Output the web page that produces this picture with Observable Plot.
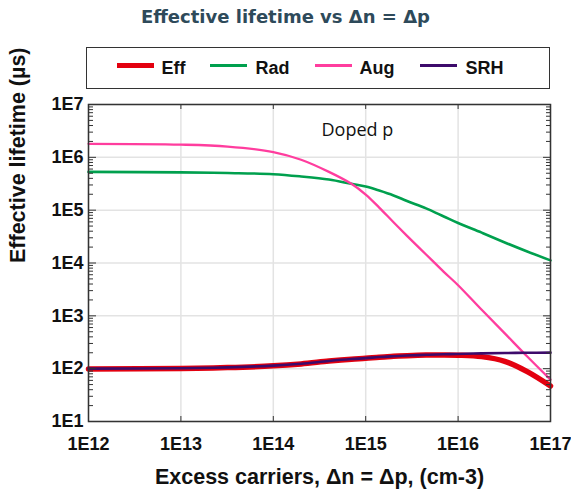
<!DOCTYPE html>
<html>
<head>
<meta charset="utf-8">
<script src="https://cdn.jsdelivr.net/npm/d3@7"></script>
<script src="https://cdn.jsdelivr.net/npm/@observablehq/plot@0.6"></script>
<style>
html, body { margin: 0; padding: 0; background: #fff; }
#wrap { position: relative; width: 571px; height: 490px; overflow: hidden; background: #fff; }
#title { position: absolute; left: 0; top: 8px; width: 571px; text-align: center; font: bold 18px/18px "DejaVu Sans", sans-serif; color: #2e4a5a; white-space: nowrap; }
#legend { position: absolute; left: 86px; top: 47px; width: 464px; height: 42px; box-sizing: border-box; border: 1.5px solid #333; }
.sw { position: absolute; }
.lt { position: absolute; font: bold 18px/18px "Liberation Sans", Arial, sans-serif; color: #111; white-space: nowrap; }
#chart { position: absolute; left: 0; top: 96px; }
</style>
</head>
<body>
<div id="wrap">
  <div id="title"></div>
  <div id="legend"></div>
  <div id="chart"></div>
</div>
<script>
// ---- Data ----
const titleText = "Effective lifetime vs Δn = Δp";
const xLabel = "Excess carriers, Δn = Δp, (cm-3)";
const yLabel = "Effective lifetime (µs)";
const noteText = "Doped p";

const seriesNames = ["Eff", "Rad", "Aug", "SRH"];
const seriesColors = ["#e3000f", "#00a04e", "#ff3d9e", "#3d0b6b"];

// Excess carrier density Δn (cm-3)
const deltaN = [1e12, 1e13, 3.2e13, 1e14, 2e14, 4e14, 7e14, 1e15, 1.4e15, 2e15, 2.8e15, 4.5e15, 7e15, 1e16, 1.8e16, 3.2e16, 5.6e16, 1e17];
// Lifetimes (µs)
const effValues = [99, 101, 105, 113, 123, 139, 151, 157, 165, 171, 176, 181, 182, 180, 169, 138, 88, 47];
const radValues = [5.3e5, 5.2e5, 5.05e5, 4.8e5, 4.35e5, 3.8e5, 3.15e5, 2.8e5, 2.35e5, 1.9e5, 1.49e5, 1.08e5, 7.6e4, 5.7e4, 3.75e4, 2.45e4, 1.65e4, 1.12e4];
const augValues = [1.8e6, 1.74e6, 1.6e6, 1.26e6, 9e5, 5.3e5, 3.15e5, 1.97e5, 1.12e5, 5.9e4, 3.27e4, 1.45e4, 6.8e3, 3.8e3, 1.3e3, 465, 170, 62];
const srhValues = [100, 102, 106, 114, 124, 140, 152, 158, 166, 172, 177, 183, 187, 190, 195, 198, 200, 201];

const xTicks = [1e12, 1e13, 1e14, 1e15, 1e16, 1e17];
const xTickLabels = ["1E12", "1E13", "1E14", "1E15", "1E16", "1E17"];
const yTicks = [1e1, 1e2, 1e3, 1e4, 1e5, 1e6, 1e7];
const yTickLabels = ["1E1", "1E2", "1E3", "1E4", "1E5", "1E6", "1E7"];

// ---- Build ----
const seriesValues = [effValues, radValues, augValues, srhValues];
const rows = [];
seriesNames.forEach((name, s) => {
  deltaN.forEach((x, i) => rows.push({series: name, x, y: seriesValues[s][i]}));
});
const yMinor = [];
for (let e = 1; e < 7; e++) for (let k = 2; k <= 9; k++) yMinor.push(k * Math.pow(10, e));

const widths = {Eff: 5.5, Rad: 2.6, Aug: 2.3, SRH: 2.6};

document.getElementById("title").textContent = titleText;

// legend
const legend = document.getElementById("legend");
const swLeft = [117, 210, 315, 420];
const txtLeft = [162, 256, 360, 466];
seriesNames.forEach((name, i) => {
  const sw = document.createElement("div");
  sw.className = "sw";
  const h = i === 0 ? 4.5 : 3;
  sw.style.cssText = `left:${swLeft[i] - 86 - 1.5}px;top:${66 - 47 - 1.5 - h / 2}px;width:37px;height:${h}px;background:${seriesColors[i]}`;
  legend.appendChild(sw);
  const t = document.createElement("div");
  t.className = "lt";
  t.textContent = name;
  t.style.cssText = `left:${txtLeft[i] - 86 - 1.5}px;top:${59 - 47 - 1.5}px`;
  legend.appendChild(t);
});

const lineMarks = seriesNames.map((name, i) =>
  Plot.line(rows.filter(d => d.series === name), {
    x: "x", y: "y", stroke: seriesColors[i], strokeWidth: widths[name], curve: "catmull-rom"
  })
);

const chart = Plot.plot({
  width: 571,
  height: 394,
  marginTop: 8,
  marginBottom: 69,
  marginLeft: 88,
  marginRight: 21,
  style: {fontFamily: "'Liberation Sans', Arial, sans-serif", background: "transparent", overflow: "visible"},
  x: {type: "log", domain: [1e12, 1e17]},
  y: {type: "log", domain: [10, 1e7]},
  marks: [
    Plot.gridX(xTicks, {stroke: "#e3e3e3", strokeOpacity: 1, strokeWidth: 1.5}),
    Plot.gridY(yTicks, {stroke: "#e3e3e3", strokeOpacity: 1, strokeWidth: 1.5}),
    ...lineMarks,
    Plot.text([noteText], {frameAnchor: "top-left", dx: 233, dy: 26, text: d => d, textAnchor: "start", lineAnchor: "middle", fontSize: 18, fontFamily: "'Open Sans', sans-serif", fill: "#111"}),
    Plot.frame({stroke: "#333", strokeWidth: 1.5}),
    Plot.axisX(xTicks, {anchor: "bottom", tickSize: -5, tickPadding: 21, tickFormat: (d) => xTickLabels[xTicks.indexOf(d)], fontSize: 18, fontWeight: "bold", fill: "#111", stroke: "#333", label: null}),
    Plot.axisX(xTicks, {anchor: "top", tickSize: -4, tickFormat: () => "", stroke: "#333", label: null}),
    Plot.axisY(yTicks, {anchor: "left", tickSize: -8, tickPadding: 13, tickFormat: (d) => yTickLabels[yTicks.indexOf(d)], fontSize: 18, fontWeight: "bold", fill: "#111", stroke: "#333", label: null}),
    Plot.axisY(yTicks, {anchor: "right", tickSize: -8, tickFormat: () => "", stroke: "#333", label: null}),
    Plot.axisY(yMinor, {anchor: "left", tickSize: -5, tickFormat: () => "", stroke: "#333", label: null}),
    Plot.axisY(yMinor, {anchor: "right", tickSize: -5, tickFormat: () => "", stroke: "#333", label: null}),
    Plot.text([xLabel], {frameAnchor: "bottom", dy: 56, text: d => d, lineAnchor: "middle", fontSize: 21.5, fontWeight: "bold", fill: "#111"}),
    Plot.text([yLabel], {frameAnchor: "left", dx: -70, rotate: -90, text: d => d, lineAnchor: "middle", fontSize: 21.5, fontWeight: "bold", fill: "#111"})
  ]
});
document.getElementById("chart").appendChild(chart);
</script>
</body>
</html>
